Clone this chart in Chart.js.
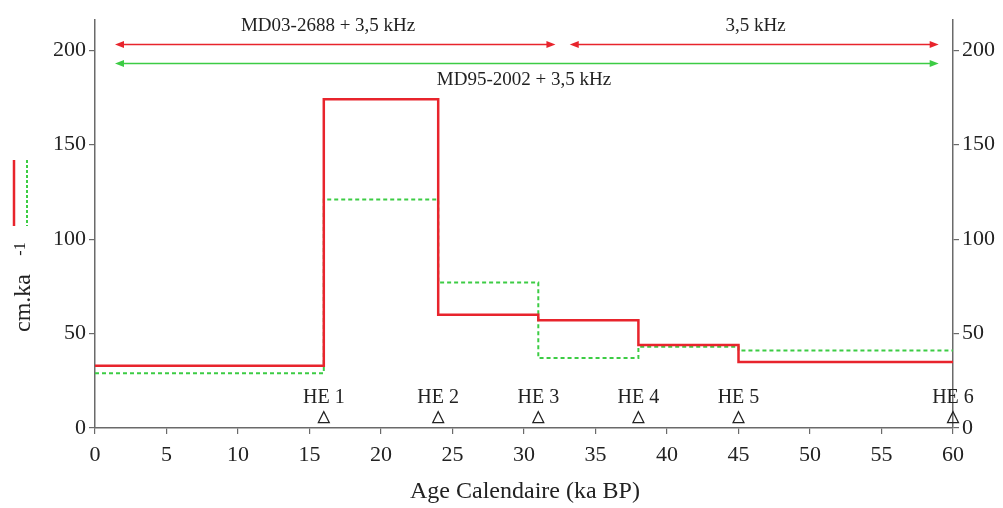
<!DOCTYPE html>
<html>
<head>
<meta charset="utf-8">
<script src="https://cdn.jsdelivr.net/npm/chart.js@4.4.0/dist/chart.umd.min.js"></script>
<style>
  html, body { margin: 0; padding: 0; background: #fff; }
  #wrap { width: 1003px; height: 508px; position: relative; }
</style>
</head>
<body>
<div id="wrap"><canvas id="chart"></canvas></div>
<script>
// step boundaries (ka BP) and sedimentation rates (cm/ka)
const ages = [0, 16, 24, 31, 38, 45, 60];
const md03Rates = [33, 174, 60, 57, 44, 35, 35];
const md95Rates = [29, 121, 77, 37, 43, 41, 41];

const xTicks = [0, 5, 10, 15, 20, 25, 30, 35, 40, 45, 50, 55, 60];
const yTicks = [0, 50, 100, 150, 200];

// Heinrich events
const heLabels = ['HE 1', 'HE 2', 'HE 3', 'HE 4', 'HE 5', 'HE 6'];
const heAges = [16, 24, 31, 38, 45, 60];

// coverage arrows: [from, to, y value]
const redArrows = [[1.4, 32.2, 203], [33.2, 59, 203]];
const greenArrows = [[1.4, 59, 193]];
const arrowLabels = ['MD03-2688 + 3,5 kHz', '3,5 kHz', 'MD95-2002 + 3,5 kHz'];
const arrowLabelPos = [[16.3, 213], [46.2, 213], [30, 184]];

const RED = '#e8242c';
const GREEN = '#3ccc44';
const AXIS = '#6a6a6a';
const FONT = "'Liberation Serif', 'DejaVu Serif', serif";

function toPoints(rates) {
    return ages.map((a, i) => ({ x: a, y: rates[i] }));
}

const extras = {
    id: 'extras',
    afterDraw(chart) {
        const ctx = chart.ctx;
        const xs = chart.scales.x;
        const ys = chart.scales.y;
        ctx.save();

        // arrows
        function arrow(from, to, yv, color) {
            const x1 = xs.getPixelForValue(from);
            const x2 = xs.getPixelForValue(to);
            const y = ys.getPixelForValue(yv);
            ctx.strokeStyle = color;
            ctx.fillStyle = color;
            ctx.lineWidth = 1.5;
            ctx.beginPath();
            ctx.moveTo(x1 + 4, y);
            ctx.lineTo(x2 - 4, y);
            ctx.stroke();
            [[x1, 1], [x2, -1]].forEach(([px, d]) => {
                ctx.beginPath();
                ctx.moveTo(px, y);
                ctx.lineTo(px + d * 9, y - 3.5);
                ctx.lineTo(px + d * 9, y + 3.5);
                ctx.closePath();
                ctx.fill();
            });
        }
        redArrows.forEach(a => arrow(a[0], a[1], a[2], RED));
        greenArrows.forEach(a => arrow(a[0], a[1], a[2], GREEN));

        ctx.fillStyle = '#222';
        ctx.font = '19px ' + FONT;
        ctx.textAlign = 'center';
        ctx.textBaseline = 'middle';
        arrowLabels.forEach((t, i) => {
            ctx.fillText(t, xs.getPixelForValue(arrowLabelPos[i][0]), ys.getPixelForValue(arrowLabelPos[i][1]));
        });

        // Heinrich event markers
        ctx.font = '20px ' + FONT;
        ctx.strokeStyle = '#222';
        ctx.lineWidth = 1.2;
        heLabels.forEach((t, i) => {
            const px = xs.getPixelForValue(heAges[i]);
            ctx.fillText(t, px, ys.getPixelForValue(16));
            const ty = ys.getPixelForValue(5.5);
            ctx.beginPath();
            ctx.moveTo(px, ty - 6);
            ctx.lineTo(px - 5.5, ty + 5);
            ctx.lineTo(px + 5.5, ty + 5);
            ctx.closePath();
            ctx.stroke();
        });

        // y axis title with mini legend
        ctx.save();
        ctx.translate(24, 303);
        ctx.rotate(-Math.PI / 2);
        ctx.font = '24px ' + FONT;
        ctx.fillText('cm.ka', 0, 0);
        ctx.font = '16px ' + FONT;
        ctx.fillText('-1', 54, -3);
        ctx.restore();

        ctx.lineWidth = 2.5;
        ctx.strokeStyle = RED;
        ctx.beginPath();
        ctx.moveTo(14, 160);
        ctx.lineTo(14, 226);
        ctx.stroke();
        ctx.lineWidth = 2;
        ctx.strokeStyle = GREEN;
        ctx.setLineDash([3, 2]);
        ctx.beginPath();
        ctx.moveTo(27, 160);
        ctx.lineTo(27, 226);
        ctx.stroke();
        ctx.setLineDash([]);

        // x axis title
        ctx.fillStyle = '#222';
        ctx.font = '24px ' + FONT;
        ctx.fillText('Age Calendaire (ka BP)', 525, 492);
        ctx.restore();
    }
};

const tickFont = { family: FONT, size: 22 };

new Chart(document.getElementById('chart'), {
    type: 'line',
    data: {
        datasets: [
            {
                label: 'MD03-2688',
                data: toPoints(md03Rates),
                borderColor: RED,
                borderWidth: 2.5,
                stepped: 'before',
                pointRadius: 0,
                fill: false
            },
            {
                label: 'MD95-2002',
                data: toPoints(md95Rates),
                borderColor: GREEN,
                borderWidth: 2,
                borderDash: [4, 3],
                stepped: 'before',
                pointRadius: 0,
                fill: false
            }
        ]
    },
    options: {
        responsive: true,
        maintainAspectRatio: false,
        animation: false,
        layout: { padding: { top: 20, left: 0, right: 0, bottom: 0 } },
        plugins: { legend: { display: false }, tooltip: { enabled: false } },
        scales: {
            x: {
                type: 'linear',
                min: 0,
                max: 60,
                afterBuildTicks: s => { s.ticks = xTicks.map(v => ({ value: v })); },
                afterFit: s => { s.height = 80; },
                grid: { display: true, drawOnChartArea: false, drawTicks: true, tickLength: 6, color: AXIS, lineWidth: 1.2 },
                border: { display: true, color: AXIS, width: 1.5 },
                ticks: { color: '#222', font: tickFont, padding: 8, maxRotation: 0 }
            },
            y: {
                type: 'linear',
                position: 'left',
                min: 0,
                max: 216,
                afterBuildTicks: s => { s.ticks = yTicks.map(v => ({ value: v })); },
                afterFit: s => { s.width = 95; },
                grid: { display: true, drawOnChartArea: false, drawTicks: true, tickLength: 6, color: AXIS, lineWidth: 1.2 },
                border: { display: true, color: AXIS, width: 1.5 },
                ticks: { color: '#222', font: tickFont, padding: 3 }
            },
            y2: {
                type: 'linear',
                position: 'right',
                min: 0,
                max: 216,
                afterBuildTicks: s => { s.ticks = yTicks.map(v => ({ value: v })); },
                afterFit: s => { s.width = 50; },
                grid: { display: true, drawOnChartArea: false, drawTicks: true, tickLength: 6, color: AXIS, lineWidth: 1.2 },
                border: { display: true, color: AXIS, width: 1.5 },
                ticks: { color: '#222', font: tickFont, padding: 3 }
            }
        }
    },
    plugins: [extras]
});
</script>
</body>
</html>
